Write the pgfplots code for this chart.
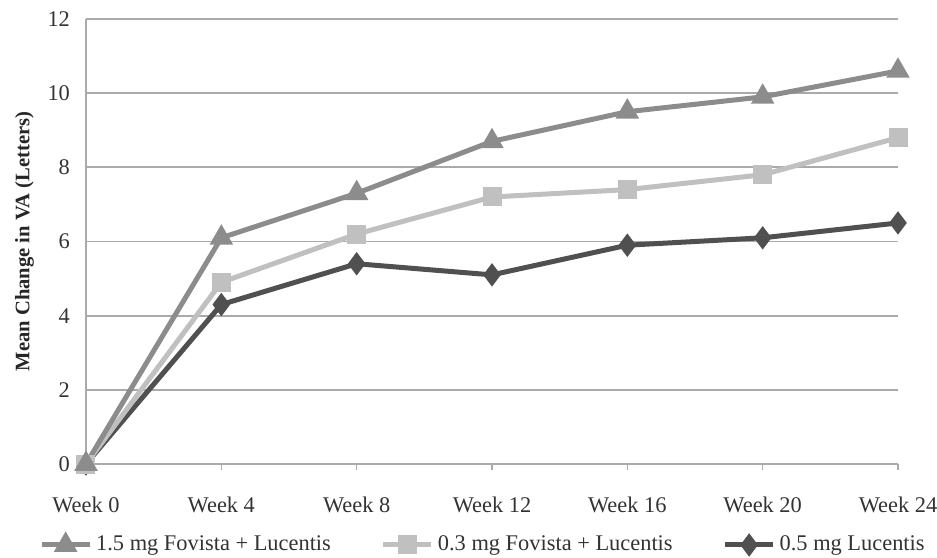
\documentclass[border=0pt]{standalone}
\usepackage{pgfplots}
\pgfplotsset{compat=1.18}
\usepackage{fontspec}
\setmainfont{Liberation Serif}
\definecolor{cA}{RGB}{140,140,140}
\definecolor{cB}{RGB}{192,192,192}
\definecolor{cC}{RGB}{80,80,80}
\definecolor{gridc}{RGB}{170,170,170}
\begin{document}
\begin{tikzpicture}
\path[use as bounding box] (-43pt,-46.5pt) rectangle (425.5pt,232pt);
\begin{axis}[
  at={(0,0)}, anchor=south west,
  scale only axis, width=406pt, height=222.5pt,
  xmin=0, xmax=6, ymin=0, ymax=12,
  xtick={0,...,6},
  xticklabels={Week 0,Week 4,Week 8,Week 12,Week 16,Week 20,Week 24},
  ytick={0,2,...,12},
  axis lines=left, axis line style={-, draw=gridc, line width=1.2pt},
  ymajorgrids, grid style={draw=gridc, line width=0.9pt},
  major tick length=3pt,
  xtick style={draw=gridc, line width=0.8pt}, ytick style={draw=none},
  xtick align=outside,
  tick label style={font=\fontsize{11.2}{13}\selectfont, text=black!80},
  xticklabel style={yshift=-10pt},
  yticklabel style={xshift=-3pt},
  /pgf/number format/assume math mode=true,
  ylabel={\textbf{Mean Change in VA (Letters)}},
  ylabel style={font=\fontsize{10.3}{12}\selectfont, text=black!85},
  clip=false,
  reverse legend,
  legend style={at={(0.49,-0.182)}, anchor=center, draw=none, legend columns=3,
    font=\fontsize{11.2}{13}\selectfont, text=black!80,
    /tikz/every even column/.append style={column sep=23pt}},
  legend image code/.code={\draw[#1] (0pt,0pt) -- (24pt,0pt); \draw[#1, only marks] plot coordinates {(12pt,0pt)};},
]
\addplot[cC, line width=2.5pt, mark=diamond*, mark size=3.8pt] coordinates {
(0,0) (1,4.3) (2,5.4) (3,5.1) (4,5.9) (5,6.1) (6,6.5)};
\addlegendentry{0.5 mg Lucentis}
\addplot[cB, line width=2.5pt, mark=square*, mark size=3.5pt] coordinates {
(0,0) (1,4.9) (2,6.2) (3,7.2) (4,7.4) (5,7.8) (6,8.8)};
\addlegendentry{0.3 mg Fovista + Lucentis}
\addplot[cA, line width=2.5pt, mark=triangle*, mark size=4.3pt] coordinates {
(0,0) (1,6.1) (2,7.3) (3,8.7) (4,9.5) (5,9.9) (6,10.6)};
\addlegendentry{1.5 mg Fovista + Lucentis}
\end{axis}
\end{tikzpicture}
\end{document}
